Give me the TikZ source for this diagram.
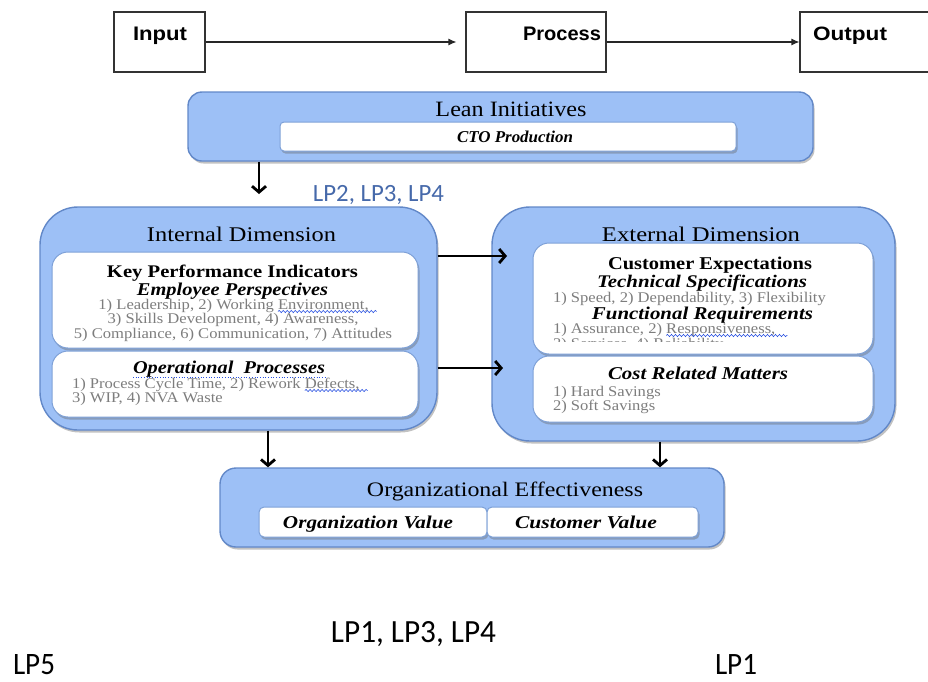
\documentclass[tikz,border=0pt]{standalone}
\usepackage{fontspec}
\setmainfont{Liberation Serif}
\newfontfamily\lpfont{Carlito}
\newfontfamily\boxsans{Liberation Sans}
\newfontfamily\grayfont[FakeStretch=1.12]{Liberation Serif}
\usetikzlibrary{arrows.meta,shadows,decorations.pathmorphing}
\definecolor{bfill}{RGB}{157,192,246}
\definecolor{bdraw}{RGB}{98,136,200}
\definecolor{wdraw}{RGB}{125,160,215}
\definecolor{itemgray}{RGB}{125,125,125}
\definecolor{lpblue}{RGB}{70,105,170}
\definecolor{squig}{RGB}{40,80,225}
\newcommand{\fw}[2]{\resizebox{#1pt}{!}{#2}}
\newcommand{\fwh}[3]{\resizebox{#1pt}{#2pt}{#3}}
\tikzset{
 shad/.style={drop shadow={shadow xshift=1.5pt, shadow yshift=-2.5pt, opacity=0.4, fill=black!60}},
 outerbox/.style={draw=bdraw, line width=1.4pt, fill=bfill, shad},
 innerbox/.style={draw=wdraw, line width=1pt, fill=white, shad},
 iobox/.style={draw=black!80, line width=1.1pt, inner sep=0pt},
 tx/.style={inner sep=0pt, outer sep=0pt},
 hd/.style={tx, anchor=base},
 itm/.style={tx, text=itemgray, font=\grayfont\fontsize{14.8}{16}\selectfont},
 flowarr/.style={-{Latex[length=8pt,width=7pt]}, line width=1.1pt, draw=black!85},
 bigarr/.style={-{Straight Barb[length=6pt,width=14pt]}, line width=2.8pt},
 wavy/.style={draw=squig, line width=0.6pt, decorate, decoration={snake, segment length=4pt, amplitude=1.1pt}},
}
\begin{document}
\begin{tikzpicture}[x=1pt,y=-1pt]
\useasboundingbox (0,0) rectangle (928,681);

% top flow
\node[iobox, minimum width=91pt, minimum height=60pt] (inbox) at (159.5,42) {};
\node[iobox, minimum width=140pt, minimum height=60pt] (procbox) at (536,42) {};
\node[iobox, minimum width=129pt, minimum height=60pt] (outbox) at (864.5,42) {};
\node[tx, anchor=base west] (tIn) at (133,40) {\fwh{54}{13.5}{\boxsans\bfseries Input}};
\node[hd] (tProc) at (562,40) {\fwh{78}{13.5}{\boxsans\bfseries Process}};
\node[hd] (tOut) at (850,40) {\fwh{74}{13.5}{\boxsans\bfseries Output}};
\draw[flowarr, shorten >=9pt] (inbox) -- (procbox);
\draw[flowarr] (procbox) -- (outbox);

% lean initiatives
\node[outerbox, rounded corners=14pt, minimum width=625pt, minimum height=69pt] (lean) at (500.5,126.5) {};
\node[hd] (tLean) at (511,116) {\fwh{151}{14.5}{Lean Initiatives}};
\node[innerbox, rounded corners=4pt, minimum width=456pt, minimum height=29pt] (cto) at (508,136.5) {};
\node[hd] (tCto) at (515,142) {\fwh{116}{11.5}{\bfseries\itshape CTO Production}};

\coordinate (a1) at (259,194);
\draw[bigarr] (lean.south -| a1) -- (a1);
\node[tx, text=lpblue] (lp234) at (378.5,195) {\fw{131}{\lpfont LP2, LP3, LP4}};

% internal dimension
\node[outerbox, rounded corners=38pt, minimum width=397pt, minimum height=223pt] (intd) at (238.5,318.5) {};
\node[hd] (tInt) at (241.5,241) {\fwh{189}{14.5}{Internal Dimension}};
\node[innerbox, rounded corners=16pt, minimum width=366pt, minimum height=96pt] (kpi) at (235,300) {};
\node[hd] (tKpi) at (232.5,277) {\fwh{251}{12.5}{\bfseries Key Performance Indicators}};
\node[hd] (tEmp) at (232.5,295) {\fwh{191}{12.5}{\bfseries\itshape Employee Perspectives}};
\node[itm, anchor=base east] (k1a) at (278,309) {1) Leadership, 2) Working\ \null};
\node[itm, anchor=base west] (k1b) at (k1a.base east) {Environment,};
\draw[wavy] ([yshift=-2.5pt]k1b.base west) -- ([yshift=-2.5pt,xshift=8pt]k1b.base east);
\node[itm, anchor=base] (k2) at (233,323.5) {3) Skills Development, 4) Awareness,};
\node[itm, anchor=base] (k3) at (233,338) {5) Compliance, 6) Communication, 7) Attitudes};

\node[innerbox, rounded corners=16pt, minimum width=366pt, minimum height=66pt] (opb) at (235,384) {};
\node[hd] (tOp) at (229,373) {\fwh{192}{12.5}{\bfseries\itshape Operational\ \ Processes}};
\draw[squig, line width=0.7pt, dotted] ([yshift=-1pt]tOp.south west) -- ([yshift=-1pt]tOp.south east);
\node[itm, anchor=base west] (op1a) at (72,388) {1) Process Cycle Time, 2) Rework\ \null};
\node[itm, anchor=base west] (op1b) at (op1a.base east) {Defects,};
\draw[wavy] ([yshift=-2.5pt]op1b.base west) -- ([yshift=-2.5pt,xshift=8pt]op1b.base east);
\node[itm, anchor=base west] (op2) at (72,402.5) {3) WIP, 4) NVA Waste};

% external dimension
\node[outerbox, rounded corners=38pt, minimum width=403pt, minimum height=234pt] (extd) at (693.5,324) {};
\node[hd] (tExt) at (701,241) {\fwh{198}{14.5}{External Dimension}};
\node[innerbox, rounded corners=16pt, minimum width=340pt, minimum height=111pt] (ce) at (703,298.5) {};
\node[hd] (tCe) at (710,269) {\fwh{204}{12.5}{\bfseries Customer Expectations}};
\node[hd] (tTech) at (702,287) {\fwh{210}{12.5}{\bfseries\itshape Technical Specifications}};
\node[itm, anchor=base west] (ce1) at (553,302) {1) Speed, 2) Dependability, 3) Flexibility};
\node[hd] (tFun) at (702.5,319) {\fwh{221}{12.5}{\bfseries\itshape Functional Requirements}};
\node[itm, anchor=base west] (ce2a) at (553,333) {1) Assurance, 2)\ \null};
\node[itm, anchor=base west] (ce2b) at (ce2a.base east) {Responsiveness,};
\draw[wavy] ([yshift=-2.5pt]ce2b.base west) -- ([yshift=-2.5pt,xshift=12pt]ce2b.base east);
\begin{scope}
\clip (540,325) rectangle (870,341.5);
\node[itm, anchor=base west] (ce3) at (553,348) {3) Services, 4) Reliability};
\end{scope}

\node[innerbox, rounded corners=16pt, minimum width=340pt, minimum height=66pt] (cost) at (703,389) {};
\node[hd] (tCost) at (698,379) {\fwh{180}{12.5}{\bfseries\itshape Cost Related Matters}};
\node[itm, anchor=base west] (c1) at (553,396) {1) Hard Savings};
\node[itm, anchor=base west] (c2) at (553,410) {2) Soft Savings};

% connectors between dimensions
\coordinate (r1) at (507,256);
\draw[bigarr] (intd.east |- r1) -- (r1);
\coordinate (r2) at (503,368);
\draw[bigarr] (intd.east |- r2) -- (r2);

% organizational effectiveness
\node[outerbox, rounded corners=16pt, minimum width=504pt, minimum height=79pt] (org) at (472,507.5) {};
\node[hd] (tOrg) at (505,496) {\fwh{276}{14.5}{Organizational Effectiveness}};
\node[innerbox, rounded corners=5pt, minimum width=228pt, minimum height=30pt] (ov) at (373,522) {};
\node[innerbox, rounded corners=5pt, minimum width=211pt, minimum height=30pt] (cv) at (592.5,522) {};
\node[hd] (tOv) at (368,528) {\fwh{170}{12.5}{\bfseries\itshape Organization Value}};
\node[hd] (tCv) at (586,528.5) {\fwh{142}{12.5}{\bfseries\itshape Customer Value}};

\coordinate (d1) at (268,0);
\draw[bigarr] (intd.south -| d1) -- (org.north -| d1);
\coordinate (d2) at (660,0);
\draw[bigarr] (extd.south -| d2) -- (org.north -| d2);

% bottom labels
\node[hd] (lp134) at (413.5,642) {\fwh{165}{21}{\lpfont LP1, LP3, LP4}};
\node[tx, anchor=base west] (lp5) at (13,674) {\fwh{42}{20}{\lpfont LP5}};
\node[tx, anchor=base west] (lp1) at (715,674) {\fwh{42}{20}{\lpfont LP1}};
\end{tikzpicture}
\end{document}
